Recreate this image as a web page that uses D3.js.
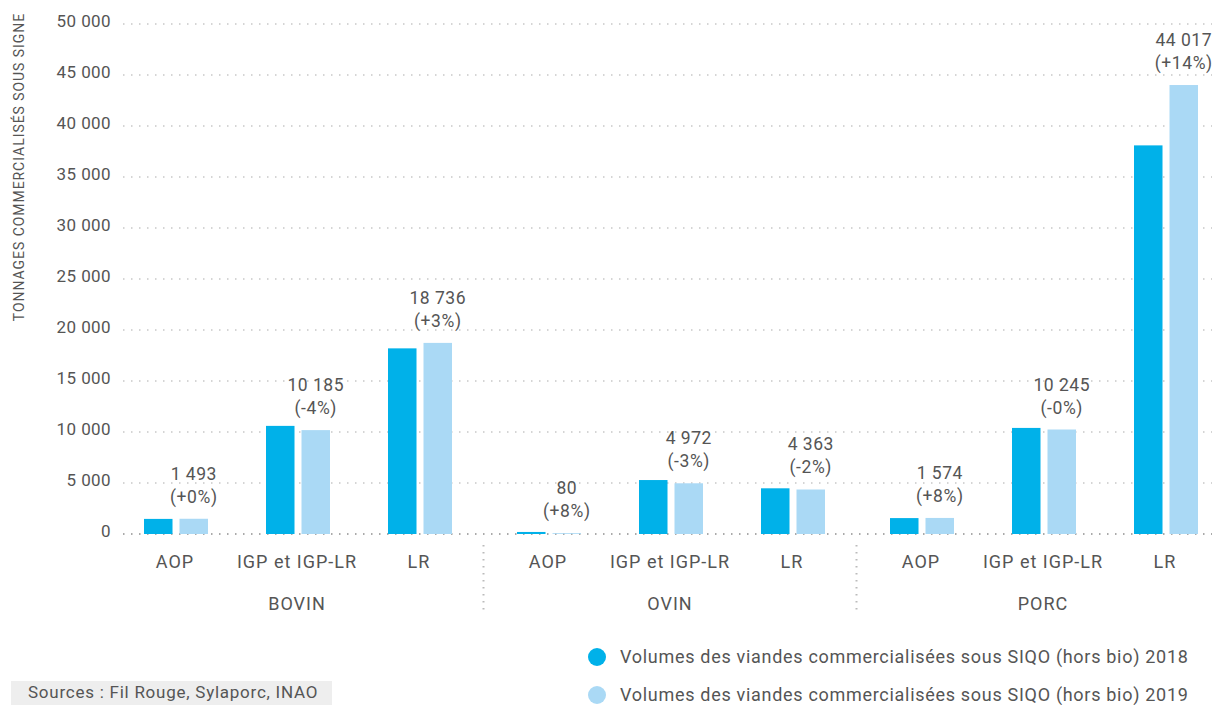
<!DOCTYPE html>
<html><head><meta charset="utf-8">
<script src="https://cdn.jsdelivr.net/npm/d3@7/dist/d3.min.js"></script>
<style>
html,body{margin:0;padding:0;background:#fff;}
text{font-family:Roboto,"Noto Sans",sans-serif;fill:#555;}
</style></head>
<body><svg id="c" width="1212" height="705"></svg>
<script>
const groups = ["BOVIN", "OVIN", "PORC"];
const categories = ["AOP", "IGP et IGP-LR", "LR"];
const series = ["2018", "2019"];
const values2018 = [[1480, 10600, 18200], [200, 5290, 4480], [1560, 10400, 38100]];
const values2019 = [[1493, 10185, 18736], [80, 4972, 4363], [1574, 10245, 44017]];
const valueLabels = [["1 493", "10 185", "18 736"], ["80", "4 972", "4 363"], ["1 574", "10 245", "44 017"]];
const pctLabels = [["(+0%)", "(-4%)", "(+3%)"], ["(+8%)", "(-3%)", "(-2%)"], ["(+8%)", "(-0%)", "(+14%)"]];
const yTicks = [0, 5000, 10000, 15000, 20000, 25000, 30000, 35000, 40000, 45000, 50000];
const legendLabels = ["Volumes des viandes commercialisées sous SIQO (hors bio) 2018", "Volumes des viandes commercialisées sous SIQO (hors bio) 2019"];
const colors = ["#00b1e9", "#aad9f5"];
const yTitle = "TONNAGES COMMERCIALISÉS SOUS SIGNE";
const sourceText = "Sources : Fil Rouge, Sylaporc, INAO";

const svg = d3.select("#c");
const y = d3.scaleLinear().domain([0, 50000]).range([534, 24]);
const x0 = d3.scaleBand().domain(groups).range([110.5, 1229.5]);
const x1 = d3.scaleBand().domain(categories).range([3.5, 369.5]);
const x2 = d3.scaleBand().domain(series).range([30, 94]).paddingInner(0.197);

// gridlines
svg.append("g").selectAll("line").data(yTicks).join("line")
  .attr("x1", 123).attr("x2", 1212)
  .attr("y1", d => y(d)).attr("y2", d => y(d))
  .attr("stroke", d => d === 0 ? "#aaa" : "#c8c8c8")
  .attr("stroke-width", d => d === 0 ? 2 : 1.5)
  .attr("stroke-dasharray", "1.5,6.5");

// y tick labels
svg.append("g").selectAll("text").data(yTicks).join("text")
  .attr("x", 111).attr("y", d => y(d) + 3)
  .attr("text-anchor", "end").attr("font-size", 17).attr("letter-spacing", 0.4)
  .text(d => d === 0 ? "0" : d3.format(",")(d).replace(/,/g, " "));

// y title
svg.append("text").attr("transform", "translate(24,167) rotate(-90)")
  .attr("text-anchor", "middle").attr("font-size", 14).attr("letter-spacing", 0.95).text(yTitle);

// bars
groups.forEach((g, gi) => {
  categories.forEach((c, ci) => {
    const base = x0(g) + x1(c);
    const vals = [values2018[gi][ci], values2019[gi][ci]];
    svg.append("g").selectAll("rect").data(series).join("rect")
      .attr("x", (s) => base + x2(s))
      .attr("width", x2.bandwidth())
      .attr("y", (s, i) => y(vals[i]))
      .attr("height", (s, i) => y(0) - y(vals[i]))
      .attr("fill", (s, i) => colors[i]);
    const lx = base + x2("2019") + x2.bandwidth() / 2;
    const top = y(vals[1]);
    svg.append("text").attr("x", lx).attr("y", top - 39).attr("text-anchor", "middle")
      .attr("font-size", 17.5).attr("letter-spacing", 0.5).text(valueLabels[gi][ci]);
    svg.append("text").attr("x", lx).attr("y", top - 16).attr("text-anchor", "middle")
      .attr("font-size", 17.5).attr("letter-spacing", 0.6).text(pctLabels[gi][ci]);
    svg.append("text").attr("x", base + x1.bandwidth() / 2).attr("y", 568)
      .attr("text-anchor", "middle").attr("font-size", 18).attr("letter-spacing", 1).text(c);
  });
  svg.append("text").attr("x", x0(g) + x0.bandwidth() / 2).attr("y", 610)
    .attr("text-anchor", "middle").attr("font-size", 18).attr("letter-spacing", 1).text(g);
});

// separators
svg.append("g").selectAll("line").data(groups.slice(1)).join("line")
  .attr("x1", d => x0(d)).attr("x2", d => x0(d))
  .attr("y1", 545).attr("y2", 612)
  .attr("stroke", "#bbb").attr("stroke-width", 2).attr("stroke-dasharray", "1.5,5.5");

// legend
const lg = svg.append("g").selectAll("g").data(legendLabels).join("g")
  .attr("transform", (d, i) => `translate(597,${657 + i * 38})`);
lg.append("circle").attr("r", 9).attr("fill", (d, i) => colors[i]);
lg.append("text").attr("x", 23).attr("y", 6).attr("font-size", 18).attr("letter-spacing", 0.7).text(d => d);

// sources
svg.append("rect").attr("x", 11).attr("y", 681).attr("width", 321).attr("height", 24).attr("fill", "#eeeeee");
svg.append("text").attr("x", 28).attr("y", 698).attr("font-size", 17).attr("letter-spacing", 0.75).text(sourceText);
</script></body></html>
